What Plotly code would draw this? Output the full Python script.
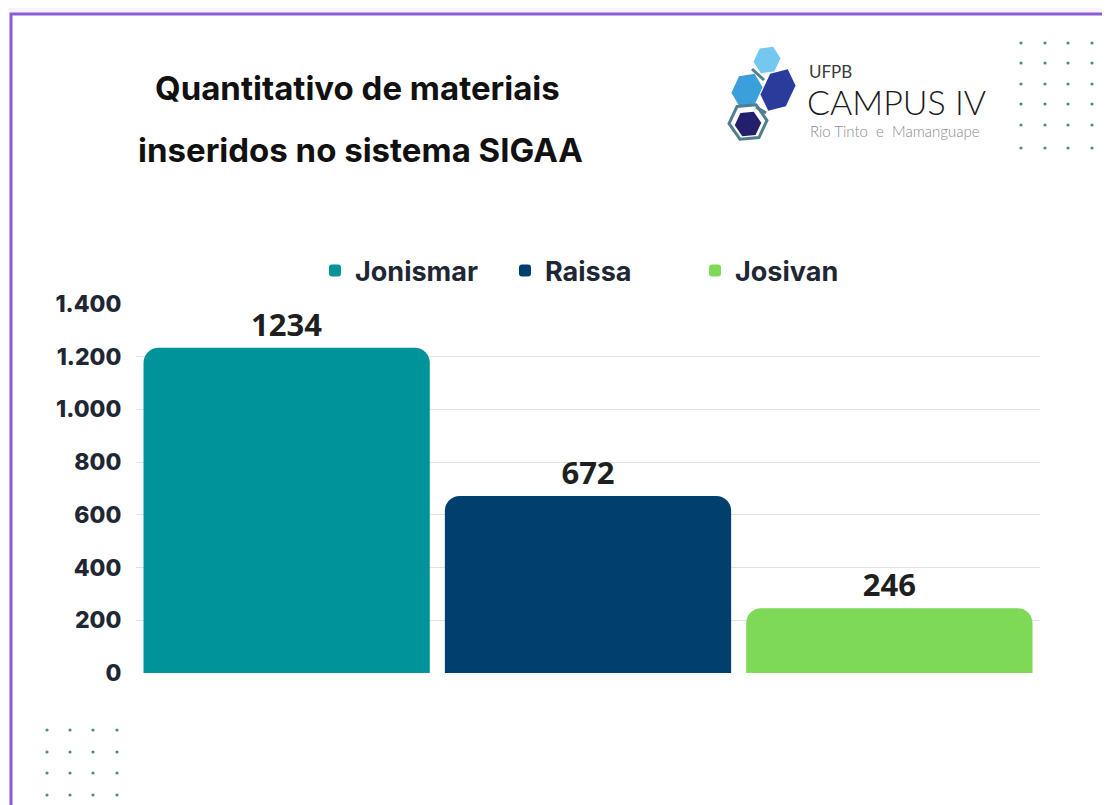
import math
import plotly.graph_objects as go

# dados
nomes = ["Jonismar", "Raissa", "Josivan"]
valores = [1234, 672, 246]
cores = ["#00939A", "#003F6E", "#7ED957"]
y_ticks = [0, 200, 400, 600, 800, 1000, 1200, 1400]

OFF = 8  # margem do body da pagina
W, H = 1110 - OFF, 805 - OFF
ML, MR, MT, MB = 128, 70, 296, 132
PW, PH = W - ML - MR, H - MT - MB


# pixel da tela -> paper
def px(x):
    return (x - OFF - ML) / PW


def py(y):
    return (H - MB - (y - OFF)) / PH


fig = go.Figure()
for nome, v, c in zip(nomes, valores, cores):
    fig.add_trace(go.Bar(
        x=["SIGAA"], y=[v], name=nome,
        marker=dict(color=c, line=dict(width=0)),
        text=[str(v)], textposition="outside",
        textfont=dict(family="Open Sans", size=31, color="#1f1f1f", weight=700),
        cliponaxis=False,
    ))

shapes = []
# faixa superior + moldura roxa
shapes.append(dict(type="rect", xref="paper", yref="paper",
                   x0=px(-10), x1=px(1130), y0=py(13), y1=py(-10),
                   fillcolor="#F6F4F9", line=dict(width=0), layer="below"))
shapes.append(dict(type="rect", xref="paper", yref="paper",
                   x0=px(11), x1=px(1130), y0=py(830), y1=py(14),
                   fillcolor="rgba(0,0,0,0)", line=dict(color="#8A5CD6", width=3)))


# pontinhos decorativos
def dots(xs, ys):
    for xx in xs:
        for yy in ys:
            shapes.append(dict(type="circle", xref="paper", yref="paper",
                               x0=px(xx - 1.6), x1=px(xx + 1.6),
                               y0=py(yy + 1.6), y1=py(yy - 1.6),
                               fillcolor="#4F8A84", line=dict(width=0)))


dots([1021, 1045, 1068, 1092], [43, 63, 84, 104, 125, 148])
dots([47, 70, 93, 117], [730, 752, 773, 795])


# logo (hexagonos inclinados)
def hexa(cx, cy, w, h, cor, contorno=None, ang=25):
    base = [(0, -h / 2), (w / 2, -h / 4), (w / 2, h / 4),
            (0, h / 2), (-w / 2, h / 4), (-w / 2, -h / 4)]
    a = math.radians(ang)
    pts = [(cx + u * math.cos(a) - v * math.sin(a), cy + u * math.sin(a) + v * math.cos(a))
           for u, v in base]
    path = "M " + " L ".join(f"{px(p):.5f},{py(q):.5f}" for p, q in pts) + " Z"
    shapes.append(dict(type="path", xref="paper", yref="paper", path=path,
                       fillcolor=cor,
                       line=dict(color=contorno or cor, width=3 if contorno else 0)))


hexa(767, 60, 23, 29, "#74C8F0")
hexa(747, 90, 26, 36, "#3B9FDB")
hexa(778, 90, 28, 46, "#2B3B9C")
hexa(748, 122, 33, 38, "#FFFFFF", "#4F7F8F")
hexa(748, 124, 23, 27, "#241F6C")
shapes.append(dict(type="line", xref="paper", yref="paper",
                   x0=px(752), y0=py(69), x1=px(764), y1=py(80),
                   line=dict(color="#4F7F8F", width=3)))
shapes.append(dict(type="line", xref="paper", yref="paper",
                   x0=px(756), y0=py(107), x1=px(766), y1=py(113),
                   line=dict(color="#4F7F8F", width=3)))


def txt(t, x, y, size, fam, cor, peso, xa="center"):
    return dict(text=t, x=px(x), y=py(y), xref="paper", yref="paper",
                xanchor=xa, yanchor="middle", showarrow=False,
                font=dict(family=fam, size=size, color=cor, weight=peso))


annotations = [
    txt("Quantitativo de materiais", 357, 88, 33, "Inter", "#111111", 700),
    txt("inseridos no sistema SIGAA", 360, 150, 33, "Inter", "#111111", 700),
    txt("UFPB", 807, 72, 17, "Lato", "#3a3a3a", 400, "left"),
    txt("CAMPUS IV", 805, 101, 34, "Lato", "#1a1a1a", 300, "left"),
    txt("Rio Tinto  e  Mamanguape", 808, 131, 15, "Lato", "#8a8a8a", 300, "left"),
]

fig.update_layout(
    width=W, height=H, autosize=False,
    margin=dict(l=ML, r=MR, t=MT, b=MB),
    paper_bgcolor="white", plot_bgcolor="white",
    barmode="group", bargap=0, bargroupgap=0.05,
    barcornerradius=15,
    separators=",.",
    showlegend=True,
    legend=dict(orientation="h", x=px(600), xanchor="center", y=py(271), yanchor="middle",
                font=dict(family="Inter", size=27, color="#1e2733", weight=700),
                entrywidth=145, entrywidthmode="pixels", itemsizing="constant"),
    shapes=shapes, annotations=annotations,
)
fig.update_xaxes(showticklabels=False, showgrid=False, showline=False, zeroline=False)
fig.update_yaxes(range=[0, 1400], tickvals=y_ticks, tickformat=",d",
                 showgrid=True, gridcolor="#E2E2E2", gridwidth=1,
                 zeroline=False, showline=False,
                 ticks="outside", ticklen=9, tickcolor="rgba(0,0,0,0)",
                 tickfont=dict(family="Inter", size=23, color="#1e2733", weight=800))

fig.write_html("out.html")
